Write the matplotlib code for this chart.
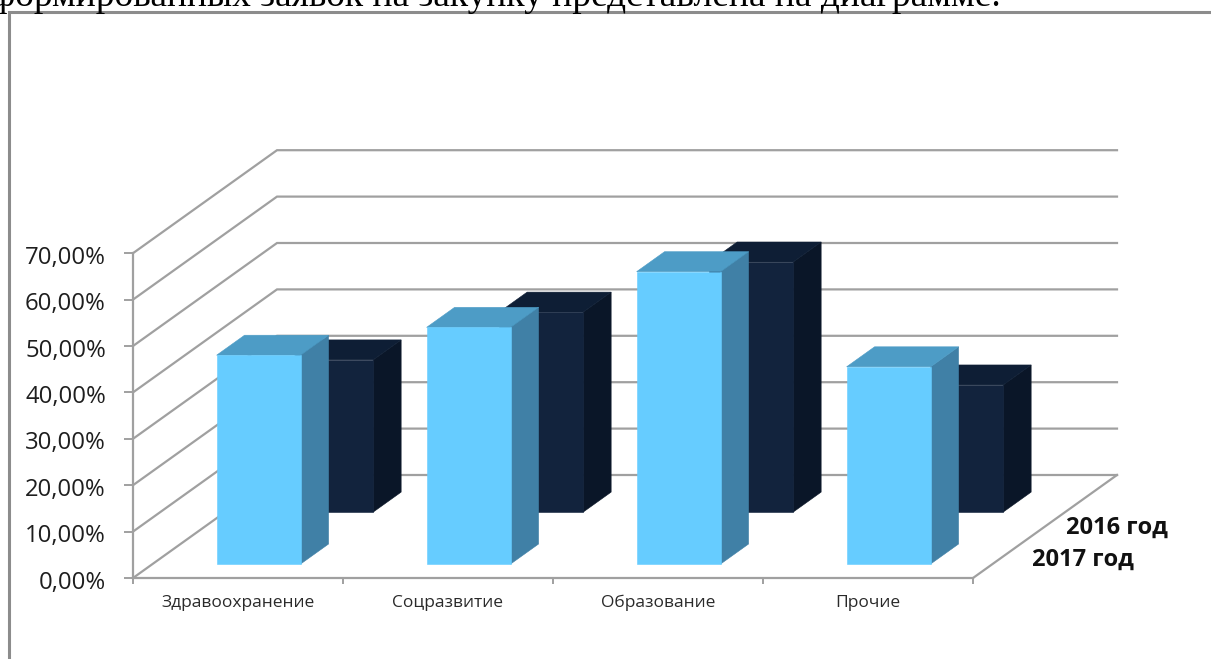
import matplotlib
matplotlib.use("Agg")
import matplotlib.pyplot as plt
from matplotlib.patches import Polygon
from matplotlib.lines import Line2D
from matplotlib.ticker import FuncFormatter, FixedLocator, FixedFormatter
from matplotlib.transforms import ScaledTranslation

categories = ["Здравоохранение", "Соцразвитие", "Образование", "Прочие"]
series_names = ["2016 год", "2017 год"]
values_2017 = [45.0, 51.0, 63.0, 42.5]
values_2016 = [32.8, 43.1, 53.9, 27.4]
y_ticks = [0, 10, 20, 30, 40, 50, 60, 70]
heading = "формированных заявок на закупку представлена на диаграмме."

W, H = 1211, 659
X0, Y0 = 133, 578          # pixel position of the axes origin
PX_CAT, PX_PCT = 210, 4.64 # pixels per category, per percent
DX, DY = 144, 103          # pixel shift of the full chart depth

fig = plt.figure(figsize=(W / 100, H / 100), dpi=100, facecolor="white")
ax = fig.add_axes([0, 0, 1, 1], facecolor="none")
ax.set_xlim(-X0 / PX_CAT, (W - X0) / PX_CAT)
ax.set_ylim((Y0 - H) / PX_PCT, Y0 / PX_PCT)

GRID = "#A0A0A0"
FONT = ["Open Sans", "DejaVu Sans"]


def project(x, y, d):
    """Oblique projection: category x, percent y, depth d (0 front, 1 back)."""
    return x + d * DX / PX_CAT, y + d * DY / PX_PCT


# walls and floor
for v in y_ticks:
    a = project(0, v, 0)
    b = project(0, v, 1)
    c = project(len(categories), v, 1)
    ax.plot([a[0], b[0], c[0]], [a[1], b[1], c[1]], color=GRID, lw=1.6, zorder=1,
            solid_joinstyle="miter")
fr = project(len(categories), 0, 0)
br = project(len(categories), 0, 1)
ax.plot([fr[0], br[0]], [fr[1], br[1]], color=GRID, lw=1.6, zorder=1)


def bar3d(x, width, value, d0, depth, front, side, top, z):
    p = project
    base = 0
    faces = [
        ([p(x + width, base, d0), p(x + width, value, d0),
          p(x + width, value, d0 + depth), p(x + width, base, d0 + depth)], side, z),
        ([p(x, value, d0), p(x + width, value, d0),
          p(x + width, value, d0 + depth), p(x, value, d0 + depth)], top, z),
        ([p(x, base, d0), p(x + width, base, d0),
          p(x + width, value, d0), p(x, value, d0)], front, z + 0.1),
    ]
    for pts, col, zz in faces:
        ax.add_patch(Polygon(pts, closed=True, fc=col, ec=col, lw=0.4, zorder=zz))


BAR_W = 0.4
for i, v in enumerate(values_2016):
    bar3d(i + 0.305, BAR_W, v, 0.64, 0.194, "#12233D", "#0A1628", "#0E1E35", 2 + i * 0.2)
for i, v in enumerate(values_2017):
    bar3d(i + 0.305, BAR_W, v, 0.136, 0.194, "#66CCFF", "#4080A6", "#4D9CC6", 4 + i * 0.2)

# axes
for s in ("top", "right"):
    ax.spines[s].set_visible(False)
for s in ("left", "bottom"):
    ax.spines[s].set_color(GRID)
    ax.spines[s].set_linewidth(1.6)
    ax.spines[s].set_zorder(1.5)
ax.spines["left"].set_position(("data", 0))
ax.spines["bottom"].set_position(("data", 0))
ax.spines["left"].set_bounds(0, y_ticks[-1])
ax.spines["bottom"].set_bounds(0, len(categories))
ax.set_yticks(y_ticks)
ax.yaxis.set_major_formatter(FuncFormatter(lambda v, _: f"{v:.2f}%".replace(".", ",")))
ax.tick_params(axis="y", length=6.5, width=1.4, color=GRID, pad=13, labelsize=17.2,
               labelcolor="#1E1E1E")
ax.set_xticks(range(len(categories) + 1))
ax.set_xticklabels([])
ax.tick_params(axis="x", which="major", length=4, width=1.4, color=GRID)
ax.xaxis.set_minor_locator(FixedLocator([i + 0.5 for i in range(len(categories))]))
ax.xaxis.set_minor_formatter(FixedFormatter(categories))
ax.tick_params(axis="x", which="minor", length=0, pad=12, labelsize=12.5, labelcolor="#2A2A2A")
for t in ax.get_yticklabels() + ax.get_xminorticklabels():
    t.set_family(FONT)
for t in ax.get_yticklabels():
    t.set_transform(t.get_transform() + ScaledTranslation(0, -1.5 / 100, fig.dpi_scale_trans))

# series labels on the depth axis
ax.text((1168 - X0) / PX_CAT, (Y0 - 528) / PX_PCT, series_names[0], ha="right",
        va="center", fontsize=17, fontweight="bold", family=FONT, color="#111111")
ax.text((1134 - X0) / PX_CAT, (Y0 - 560) / PX_PCT, series_names[1], ha="right",
        va="center", fontsize=17, fontweight="bold", family=FONT, color="#111111")

# chart frame and the cropped page text above it
frame = "#8C8C8C"
fig.add_artist(Line2D([8.5 / W, 8.5 / W, 1], [0, 1 - 12 / H, 1 - 12 / H], color=frame, lw=2.2,
                      solid_joinstyle="miter"))
fig.text(-9 / W, 1 - 6 / H, heading, ha="left", va="baseline", fontsize=27,
         family=["Liberation Serif", "DejaVu Serif"], color="black")

fig.savefig("out.png", dpi=100)
